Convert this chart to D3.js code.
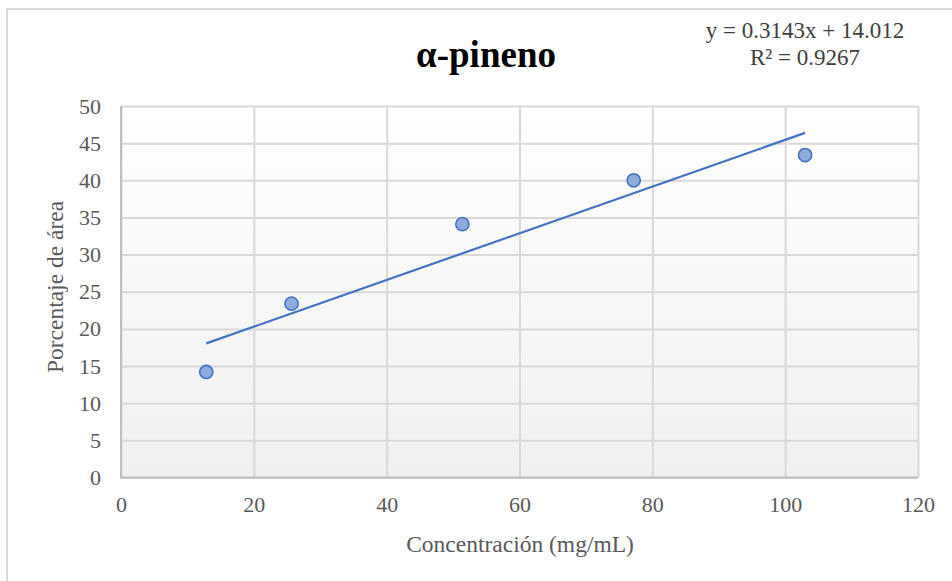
<!DOCTYPE html>
<html>
<head>
<meta charset="utf-8">
<script src="https://cdn.jsdelivr.net/npm/d3@7"></script>
<style>
  body { margin: 0; background: #fff; }
  svg text { font-family: "Liberation Serif", "Times New Roman", serif; }
</style>
</head>
<body>
<div id="chart"></div>
<script>
// data
var concentracion = [12.84, 25.68, 51.4, 77.2, 103.0];
var porcentaje = [14.2, 23.4, 34.1, 40.0, 43.4];
var xTicks = [0, 20, 40, 60, 80, 100, 120];
var yTicks = [0, 5, 10, 15, 20, 25, 30, 35, 40, 45, 50];
var slope = 0.3143, intercept = 14.012;

var width = 952, height = 581;
var plotLeft = 121, plotRight = 918, plotTop = 106, plotBottom = 477.5;

var svg = d3.select('#chart').append('svg')
    .attr('width', width)
    .attr('height', height);

// outer chart border
svg.append('rect')
    .attr('x', 7).attr('y', 9)
    .attr('width', 960).attr('height', 600)
    .attr('fill', '#fff')
    .attr('stroke', '#d9d9d9')
    .attr('stroke-width', 2);

var defs = svg.append('defs');
var grad = defs.append('linearGradient')
    .attr('id', 'bg').attr('x1', 0).attr('y1', 0).attr('x2', 0).attr('y2', 1);
grad.append('stop').attr('offset', '0%').attr('stop-color', '#ffffff');
grad.append('stop').attr('offset', '100%').attr('stop-color', '#f0f0f0');

var x = d3.scaleLinear().domain([0, 120]).range([plotLeft, plotRight]);
var y = d3.scaleLinear().domain([0, 50]).range([plotBottom, plotTop]);

svg.append('rect')
    .attr('x', plotLeft).attr('y', plotTop)
    .attr('width', plotRight - plotLeft).attr('height', plotBottom - plotTop)
    .attr('fill', 'url(#bg)');

// grid lines
svg.append('g')
    .attr('transform', 'translate(0,' + plotBottom + ')')
    .call(d3.axisBottom(x).tickValues(xTicks).tickSize(-(plotBottom - plotTop)).tickFormat(''))
    .call(g => g.select('.domain').remove())
    .selectAll('line').attr('stroke', '#d9d9d9').attr('stroke-width', 2);

svg.append('g')
    .attr('transform', 'translate(' + plotLeft + ',0)')
    .call(d3.axisLeft(y).tickValues(yTicks).tickSize(-(plotRight - plotLeft)).tickFormat(''))
    .call(g => g.select('.domain').remove())
    .selectAll('line').attr('stroke', '#d9d9d9').attr('stroke-width', 2);

// axis lines
svg.append('line')
    .attr('x1', plotLeft).attr('x2', plotLeft).attr('y1', plotTop).attr('y2', plotBottom + 1)
    .attr('stroke', '#bfbfbf').attr('stroke-width', 2);
svg.append('line')
    .attr('x1', plotLeft).attr('x2', plotRight).attr('y1', plotBottom).attr('y2', plotBottom)
    .attr('stroke', '#bfbfbf').attr('stroke-width', 2);

// tick labels
var xAxis = svg.append('g')
    .attr('transform', 'translate(0,' + plotBottom + ')')
    .call(d3.axisBottom(x).tickValues(xTicks).tickSize(0).tickPadding(19));
xAxis.select('.domain').remove();
xAxis.selectAll('text').attr('fill', '#595959').style('font-size', '22px')
    .style('font-family', '"Liberation Serif", serif');

var yAxis = svg.append('g')
    .attr('transform', 'translate(' + plotLeft + ',0)')
    .call(d3.axisLeft(y).tickValues(yTicks).tickSize(0).tickPadding(20));
yAxis.select('.domain').remove();
yAxis.selectAll('text').attr('fill', '#595959').style('font-size', '22px')
    .style('font-family', '"Liberation Serif", serif');

// trendline
var xMin = d3.min(concentracion), xMax = d3.max(concentracion);
svg.append('line')
    .attr('x1', x(xMin)).attr('y1', y(slope * xMin + intercept))
    .attr('x2', x(xMax)).attr('y2', y(slope * xMax + intercept))
    .attr('stroke', '#4472c4').attr('stroke-width', 2.2);

// points
svg.selectAll('circle.pt')
    .data(concentracion)
    .enter()
    .append('circle')
    .attr('class', 'pt')
    .attr('cx', (d) => x(d))
    .attr('cy', (d, i) => y(porcentaje[i]))
    .attr('r', 6.6)
    .attr('fill', '#8faadc')
    .attr('stroke', '#4472c4')
    .attr('stroke-width', 1.6);

// title
svg.append('text')
    .attr('x', 486).attr('y', 67)
    .attr('text-anchor', 'middle')
    .style('font-size', '37px').style('font-weight', 'bold')
    .attr('fill', '#000')
    .text('α-pineno');

// equation
svg.append('text')
    .attr('x', 805).attr('y', 38)
    .attr('text-anchor', 'middle')
    .style('font-size', '23px').attr('fill', '#404040')
    .text('y = 0.3143x + 14.012');
svg.append('text')
    .attr('x', 805).attr('y', 65)
    .attr('text-anchor', 'middle')
    .style('font-size', '23px').attr('fill', '#404040')
    .text('R² = 0.9267');

// axis titles
svg.append('text')
    .attr('x', 520).attr('y', 552)
    .attr('text-anchor', 'middle')
    .style('font-size', '23.5px').attr('fill', '#595959')
    .text('Concentración (mg/mL)');
svg.append('text')
    .attr('transform', 'translate(63,287) rotate(-90)')
    .attr('text-anchor', 'middle')
    .style('font-size', '23.5px').attr('fill', '#595959')
    .text('Porcentaje de área');
</script>
</body>
</html>
